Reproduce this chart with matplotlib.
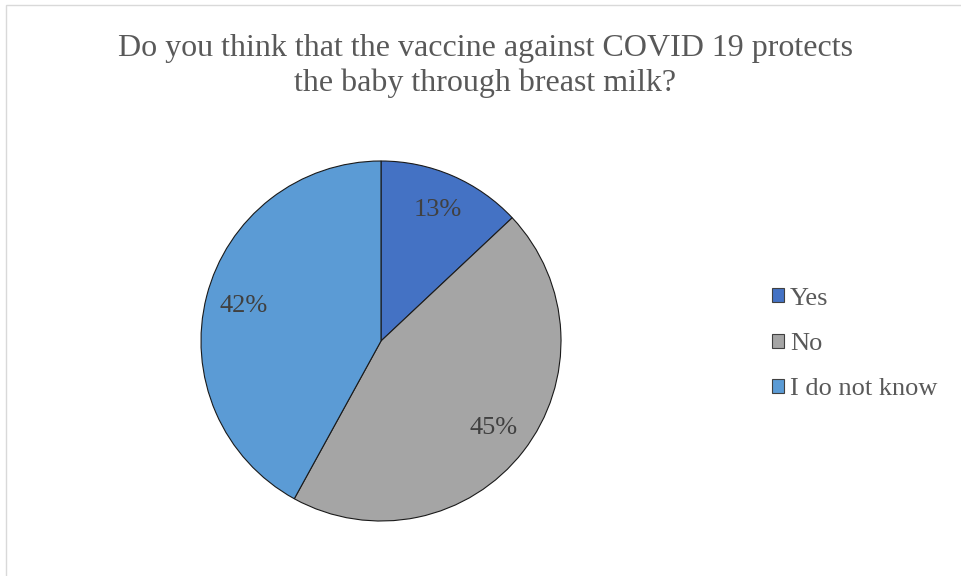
"""Pie chart: vaccine protection through breast milk."""

import matplotlib

matplotlib.use("Agg")

import matplotlib.pyplot as plt
from matplotlib.patches import Patch, Rectangle

labels = ["Yes", "No", "I do not know"]
shares = [13, 45, 42]
colors = ["#4472C4", "#A5A5A5", "#5B9BD5"]
title = "Do you think that the vaccine against COVID 19 protects\nthe baby through breast milk?"

plt.rcParams["font.family"] = ["Liberation Serif", "DejaVu Serif"]

W, H = 962, 576
fig = plt.figure(figsize=(W / 100, H / 100), dpi=100)

# heller Rahmen (rechts/unten abgeschnitten)
fig.patches.append(
    Rectangle((5.5 / W, -0.1), 1.2, 1 - 4.5 / H + 0.1, transform=fig.transFigure,
              fill=False, edgecolor="#D9D9D9", linewidth=1)
)

cx, cy, r = 381, 341, 180
ax = fig.add_axes([(cx - r) / W, (H - cy - r) / H, 2 * r / W, 2 * r / H])
wedges, texts, autotexts = ax.pie(
    shares,
    colors=colors,
    startangle=90,
    counterclock=False,
    autopct="%d%%",
    pctdistance=0.79,
    wedgeprops={"edgecolor": "#1a1a1a", "linewidth": 0.8},
    textprops={"fontsize": 19, "color": "#404040"},
)
ax.set_aspect("equal")
ax.set_xlim(-1, 1)
ax.set_ylim(-1, 1)

fig.text(485.5 / W, 1 - 66 / H, title, ha="center", va="center",
         fontsize=23, color="#595959", linespacing=1.27)

handles = [Patch(facecolor=c, edgecolor="#404040", linewidth=0.8) for c in colors]
fig.legend(
    handles, labels,
    loc="center left",
    bbox_to_anchor=(748 / W, 1 - 344 / H),
    frameon=False,
    fontsize=19,
    labelcolor="#595959",
    handlelength=0.45,
    handleheight=0.45,
    handletextpad=0.25,
    labelspacing=0.88,
)

fig.savefig("out.png", dpi=100)
plt.close(fig)
